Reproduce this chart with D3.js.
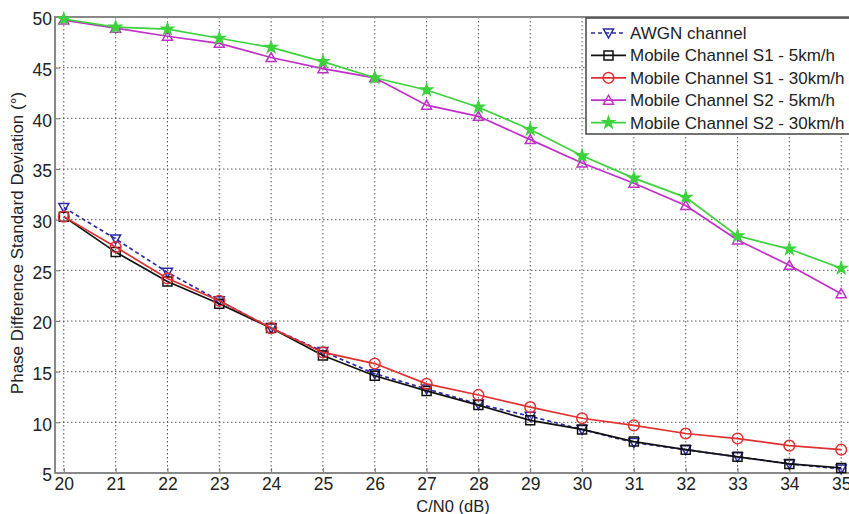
<!DOCTYPE html>
<html>
<head>
<meta charset="utf-8">
<script src="https://cdn.jsdelivr.net/npm/d3@7"></script>
<style>
body { margin:0; background:#fff; }
svg text { font-family: "Liberation Sans", Arial, sans-serif; fill:#222; }
</style>
</head>
<body>
<svg id="chart"></svg>
<script>
// data
var cn0 = [20,21,22,23,24,25,26,27,28,29,30,31,32,33,34,35];
var awgn     = [31.2,28.1,24.8,22.0,19.3,17.0,14.8,13.3,11.8,10.6,9.3,8.0,7.3,6.6,5.9,5.4];
var s1_5     = [30.3,26.8,23.9,21.7,19.3,16.6,14.6,13.1,11.7,10.2,9.3,8.1,7.3,6.6,5.9,5.5];
var s1_30    = [30.3,27.3,24.2,22.0,19.3,16.9,15.8,13.8,12.7,11.5,10.4,9.7,8.9,8.4,7.7,7.3];
var s2_5     = [49.7,48.9,48.1,47.4,46.0,44.9,44.0,41.3,40.2,37.9,35.6,33.6,31.4,28.0,25.5,22.7];
var s2_30    = [49.8,49.0,48.8,47.9,47.0,45.6,44.0,42.8,41.1,38.9,36.3,34.1,32.2,28.4,27.1,25.2];
var yTicks = [5,10,15,20,25,30,35,40,45,50];
var seriesNames = ["AWGN channel","Mobile Channel S1 - 5km/h","Mobile Channel S1 - 30km/h",
                   "Mobile Channel S2 - 5km/h","Mobile Channel S2 - 30km/h"];

var screen = {width:849, height:514};
var box = {left:55, right:850, top:17, bottom:473};

var svg = d3.select("#chart")
    .attr("width",screen.width)
    .attr("height",screen.height);

var xScale = d3.scaleLinear()
    .domain([19.83,35.17])
    .range([box.left,box.right]);
var yScale = d3.scaleLinear()
    .domain([5,50])
    .range([box.bottom,box.top]);

// grid
var grid = svg.append("g");
grid.selectAll(".vg")
    .data(cn0)
    .enter()
    .append("line")
    .attr("x1",function(d){return xScale(d)})
    .attr("x2",function(d){return xScale(d)})
    .attr("y1",box.top)
    .attr("y2",box.bottom)
    .attr("stroke","#555")
    .attr("stroke-width",1)
    .attr("stroke-dasharray","1.5,2.5");
grid.selectAll(".hg")
    .data(yTicks)
    .enter()
    .append("line")
    .attr("x1",box.left)
    .attr("x2",box.right)
    .attr("y1",function(d){return yScale(d)})
    .attr("y2",function(d){return yScale(d)})
    .attr("stroke","#555")
    .attr("stroke-width",1)
    .attr("stroke-dasharray","1.5,2.5");

// axes
var xAxis = d3.axisBottom(xScale).tickValues(cn0).tickSize(-5).tickPadding(5).tickFormat(d3.format("d"));
var yAxis = d3.axisLeft(yScale).tickValues(yTicks).tickSize(-5).tickPadding(3);
var xA = svg.append("g")
    .attr("transform","translate(0,"+box.bottom+")")
    .call(xAxis);
var yA = svg.append("g")
    .attr("transform","translate("+box.left+",0)")
    .call(yAxis);
[xA,yA].forEach(function(a){
    a.select(".domain").remove();
    a.selectAll("line").attr("stroke","#777");
    a.selectAll("text").style("font-size","17.5px").attr("fill","#222");
});
yA.selectAll("text").attr("dy","0.45em");

// frame
svg.append("rect")
    .attr("x",box.left)
    .attr("y",box.top)
    .attr("width",box.right-box.left)
    .attr("height",box.bottom-box.top)
    .attr("fill","none")
    .attr("stroke","#888")
    .attr("stroke-width",2);

// labels
svg.append("text")
    .text("C/N0 (dB)")
    .attr("x",453)
    .attr("y",512)
    .attr("text-anchor","middle")
    .style("font-size","16.5px");
svg.append("g")
    .attr("transform","translate(23,243)")
    .append("text")
    .text("Phase Difference Standard Deviation (°)")
    .attr("text-anchor","middle")
    .attr("transform","rotate(-90)")
    .style("font-size","17px");

var styles = [
    {data:awgn, color:"#2a2aa8", dash:"4,3", marker:"tri-down"},
    {data:s1_5, color:"#111", dash:null, marker:"square"},
    {data:s1_30, color:"#e03030", dash:null, marker:"circle"},
    {data:s2_5, color:"#c030c8", dash:null, marker:"tri-up"},
    {data:s2_30, color:"#3cd23c", dash:null, marker:"star"}
];

var markerPath = function(type)
{
    if (type=="tri-down") return "M-5,-4L5,-4L0,5Z";
    if (type=="tri-up") return "M-5,4L5,4L0,-5Z";
    if (type=="square") return "M-4.5,-4.5H4.5V4.5H-4.5Z";
    if (type=="circle") return d3.symbol().type(d3.symbolCircle).size(90)();
    return d3.symbol().type(d3.symbolStar).size(40)();
}

var lineGenerator = d3.line()
    .x(function(d,i){return xScale(cn0[i])})
    .y(function(d){return yScale(d)});

var plot = svg.append("g");
styles.forEach(function(s){
    plot.append("path")
        .datum(s.data)
        .attr("d",lineGenerator)
        .attr("fill","none")
        .attr("stroke",s.color)
        .attr("stroke-width",1.7)
        .attr("stroke-dasharray",s.dash);
    plot.selectAll(null)
        .data(s.data)
        .enter()
        .append("path")
        .attr("d",markerPath(s.marker))
        .attr("transform",function(d,i){return "translate("+xScale(cn0[i])+","+yScale(d)+")"})
        .attr("fill",s.marker=="star" ? s.color : "none")
        .attr("stroke",s.color)
        .attr("stroke-width",1.5);
});

// legend
var legend = svg.append("g");
legend.append("rect")
    .attr("x",586)
    .attr("y",18)
    .attr("width",270)
    .attr("height",116)
    .attr("fill","#fff")
    .attr("stroke","#444")
    .attr("stroke-width",1.5);
styles.forEach(function(s,i){
    var y = 33 + i*22.4;
    legend.append("line")
        .attr("x1",591).attr("x2",626)
        .attr("y1",y).attr("y2",y)
        .attr("stroke",s.color)
        .attr("stroke-width",1.7)
        .attr("stroke-dasharray",s.dash);
    legend.append("path")
        .attr("d",markerPath(s.marker))
        .attr("transform","translate(608.5,"+y+")")
        .attr("fill",s.marker=="star" ? s.color : "none")
        .attr("stroke",s.color)
        .attr("stroke-width",1.5);
    legend.append("text")
        .text(seriesNames[i])
        .attr("x",630)
        .attr("y",y+6)
        .style("font-size","17px");
});
</script>
</body>
</html>
